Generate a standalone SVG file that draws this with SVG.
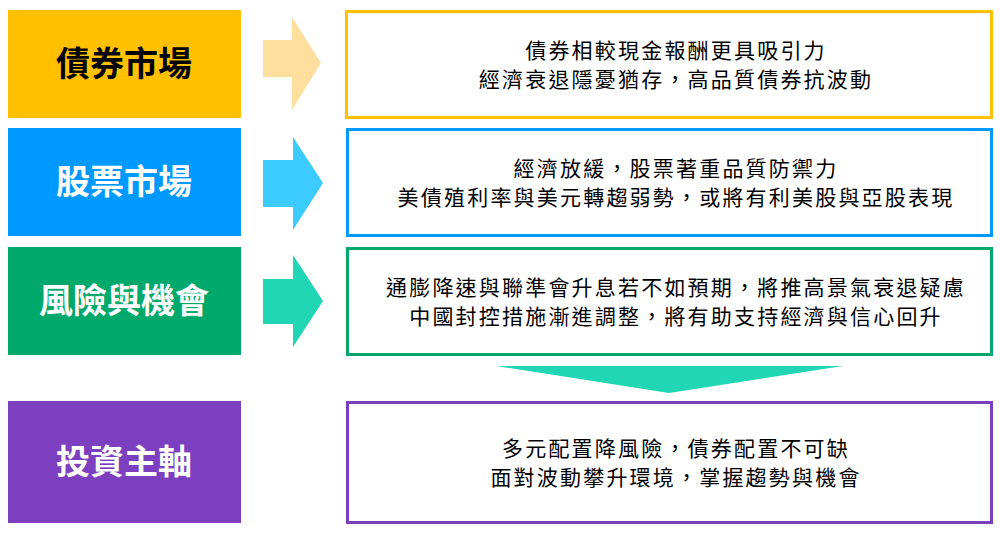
<svg xmlns="http://www.w3.org/2000/svg" width="1000" height="542" viewBox="0 0 1000 542">
<style>
.lt{font-family:"Noto Sans CJK TC","Noto Sans CJK SC",sans-serif;font-size:34px;font-weight:bold;fill:#000;text-anchor:middle}
.lw{fill:#fff}
.rt{font-family:"Noto Sans CJK TC","Noto Sans CJK SC",sans-serif;font-size:21px;letter-spacing:2.2px;fill:#000;text-anchor:middle}
.rb{fill:#fff;stroke-width:3}
</style>
<rect width="1000" height="542" fill="#fff"/>
<g id="n1"><rect x="8" y="10" width="233" height="108" fill="#FFC000"/><text class="lt" x="124" y="76">債券市場</text></g>
<g id="n2"><rect x="8" y="128" width="233" height="108" fill="#0099FF"/><text class="lt lw" x="124" y="194">股票市場</text></g>
<g id="n3"><rect x="8" y="247" width="233" height="108" fill="#00A86B"/><text class="lt lw" x="124" y="313">風險與機會</text></g>
<g id="n4"><rect x="8" y="401" width="233" height="122" fill="#7B3FC0"/><text class="lt lw" x="124" y="474">投資主軸</text></g>
<g id="r1"><rect class="rb" x="346.5" y="11.5" width="645" height="106" stroke="#FFC000"/><text class="rt" x="676" y="58">債券相較現金報酬更具吸引力</text><text class="rt" x="676" y="87">經濟衰退隱憂猶存，高品質債券抗波動</text></g>
<g id="r2"><rect class="rb" x="347.5" y="129.5" width="644" height="106" stroke="#0099FF"/><text class="rt" x="676" y="176">經濟放緩，股票著重品質防禦力</text><text class="rt" x="676" y="205">美債殖利率與美元轉趨弱勢，或將有利美股與亞股表現</text></g>
<g id="r3"><rect class="rb" x="347.5" y="248.5" width="644" height="106" stroke="#00A86B"/><text class="rt" x="676" y="295">通膨降速與聯準會升息若不如預期，將推高景氣衰退疑慮</text><text class="rt" x="676" y="324">中國封控措施漸進調整，將有助支持經濟與信心回升</text></g>
<g id="r4"><rect class="rb" x="347.5" y="402.5" width="644" height="120" stroke="#7B3FC0"/><text class="rt" x="676" y="456">多元配置降風險，債券配置不可缺</text><text class="rt" x="676" y="485">面對波動攀升環境，掌握趨勢與機會</text></g>
<g id="connectors">
<polygon points="263,40 292,40 292,17 321,63 292,110 292,77 263,77" fill="#FFDF9E"/>
<polygon points="263,160 293,160 293,137 323,183 293,230 293,207 263,207" fill="#3CCBFF"/>
<polygon points="263,279 293,279 293,255 323,301 293,347 293,324 263,324" fill="#20D6B5"/>
<polygon points="496,366 843,366 669,393" fill="#20D6B5"/>
</g>
</svg>
